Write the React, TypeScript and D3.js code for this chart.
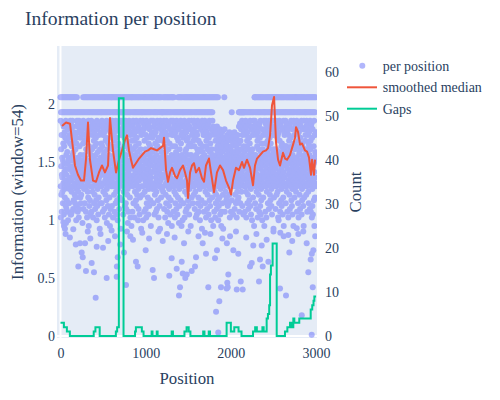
import { useEffect, useRef } from "react";
import * as d3 from "d3";

const WIDTH = 500;
const HEIGHT = 400;
const PLOT = { left: 57, right: 317, top: 46, bottom: 338 };
const FONT = "'Times New Roman', 'Liberation Serif', serif";
const INK = "#2a3f5f";

const X_TICKS = [0, 1000, 2000, 3000];
const INFO_TICKS = [0, 0.5, 1, 1.5, 2];
const COUNT_TICKS = [0, 10, 20, 30, 40, 50, 60];

// per position information: each row covers 120 positions, one char per sample.
// letters = level 0.9 .. 1.855, S / T = the two top bands, others: no point
const LEVELS = "abcdefghijklmnopqrstuvwxyzABCDEFGHIJKLMN";
const BANDS: Record<string, number> = { S: 1.93, T: 2.058 };
const INFO_ROWS = [
  "TNqfSDxnTIhuSAtoTMkzSFryTLgcSEvpTJmbSHswTNjdSBuiTGlqSCyhTKreSMwATLzkSIptTHsFSNxg",
  "TMsgSKzoTEhvSNqBTLwiSCulTJxASGrnTIktSDymTHpeSFvjTNzqSLshMwAoSJtfrNxiSEquKyHmSBvk",
  "xLnrSKzJqLvdSMtFTNiySIpBTGwkSLsATMxhSDuqTKzfSHroTJvmSNycTEtjSCwlTLqgSBzs",
  "TNuhSKzDTIwoSMqfTLxASGskTJynSEviTMrBSHtlTFzeSNwjTKpuSCygTLsmSItqTMxbSDvrTAzkSJuF",
  "SMqkTNxESLzhTIuoSKwBTCriSJyfTMsnSGvATHtlSNpdTDzqSLwjTFxuSKsgTBymSMrcTEviSJztTNqH",
  "TLsjSNyDTKwfSIqATMznSGuhTJxBSErkTNvoSHtgTCzlSLweTMpqSFysTKuiSArmTNxDSJvbTItzSBsK",
  "SNvlTKxCSMqgTIzoSLwETHujSJsATNykSBriTMtFSGznTLpdSKvhTDxqSNusTEwmSIyfTCrBSJzcTMtG",
  "TMzhSLqDTNwkSIxATKufSGsoTJyBSEvlTNrjSHtnTCzqSMweTLpiSFysTKxgSAumTNvDSJzbTIqtSBwK",
  "SJxnTNqeSMzATKuhSGwoTLsBSDyiTIrfSNvkTCtqSHzmTMwgSLpFTBxjSKusTEylSAtcTNrDSIvzTJqH",
  "TCpzSNrkTLxASIvgTMwnSFqDTJthSKyoTBsiSNzETGulSMxfTHrqTLvjSDwbTNysSAzmTKtCSIpuSJxG",
  "SMqoTKyBSNtiTLwESHzfTJunSCrkTNxASGvhTIsqSLzdTDwmSMpjTFyuSKtgTAxlSNrsTBvcSJzITEqw",
  "TNvhSKxATLqoSIzfMwEkSJsnCtyiSNrBHuzgSLvmTGwqSKxdTMpjSDysTAtlSNzFTIrcSBvuTJqeSLwH",
  "SIxkTMrASNwfTLzoSCuhTKsDSJyiTGvnSMqBTHtlSEzjTNwgSLpqTFxsSKucTByESNrmTIvzSAtkTJqG",
  "TKznSNqETMxiSHwoTLvfSBsATJugSIrDTNykSCtmTGzhSLwqTMpeSFxjTDusSKylTAvbSNrCTEztSJqI",
  "TMwhSLzBTNqkSIxoTKufSGsETJyiSDrnTLvASMtgTHzqSNwlTCpjSFxsTIueSKyDTAvmSNrzTBtcLqJw",
  "TKwhxAqoTIzfuGskTJynrDviTLtBwEzlTCxeqHujFsyAmvKrBzgItpxDwGcuhqEyJsCkzvAnrbHxuFtw",
  "qxTzKuhAwsGvoyDrFtlEzBmwIxukEjvrHsCzkqyAtnJwxfvBuDrsGzhIwqEySltxAvCuzrHgsxFwyBtq",
  "vJzirCwnuGsAxkEqzHtfyBwosIvlDuxCrmzFSLyhSAtqSMwkSGzuSKxoSDvrSNsjSIyBSLwgSEztSJqC",
  "SMxhKzAqSNqoIwfuSLuEGskrSJynDriwSMvBHtlzSFzqNwjxSCpgKxsvSAueLyDtSIvmNrzxSBtcJqwT",
  "TNvkSLxBTMqiSIzoTKwESGufTJsASDynTLrhSMtqTHzjSNwgTCplSFxsTAueSKyDTIvmSBrzTNtcSJqF",
  "SKzhTMxASNqfTIwoSLuCTGskSJyETDriSNvBTHtnSMzlTFwqSKpjTLxgSAusTNyDSIvbTCrmSBtzTJqI",
  "TLwiSNxDTKqnSMzATHuoSIsfTByeSJrkTNvGSCthTMzqSLwlTEpjSFxsTKugSAymTNvcSDrzTItBSJqE",
  "SNykTLxESMqoTJzhSKwATCufSIsBTGynSLriTMvDSHtqTNzlSEwjTKpgSBxsTAucSNyFTIvmSDrzTLqt",
  "TMzoSKxATNqhSLwETIukSGsfTJyBSCrnTMviSHtDTLzqSNwgTFplSExsTKujSAycTNvmSBrzTDtGSIqK",
  "SLwnTNxCSKqhTMzASIuoTFskSJyETBriSNvDTGthSLzqTMwfSHpjTKxgSAusTEylSNvcTIrmSCtzTJqB",
];

// sparse points below the main cloud [position, information]
const LOW_POINTS: [number, number][] = [
  [33, 0.98], [60, 0.88], [110, 0.85], [150, 0.92], [180, 0.79], [209, 0.6], [229, 0.8],
  [249, 0.72], [261, 0.68], [288, 0.8], [299, 0.56], [320, 0.9], [350, 0.84], [366, 0.63],
  [393, 0.55], [413, 0.33], [425, 0.77], [470, 0.88], [499, 0.76], [542, 0.5], [560, 0.82],
  [600, 0.91], [640, 0.86], [660, 0.51], [662, 0.6], [672, 0.68], [700, 0.79], [745, 0.72],
  [769, 0.44], [780, 0.9], [820, 0.86], [851, 0.83], [886, 0.64], [906, 0.6], [960, 0.89],
  [1000, 0.74], [1040, 0.84], [1082, 0.57], [1098, 0.5], [1150, 0.9], [1200, 0.82],
  [1250, 0.88], [1277, 0.52], [1305, 0.67], [1340, 0.85], [1364, 0.58], [1391, 0.35],
  [1403, 0.42], [1423, 0.64], [1435, 0.54], [1450, 0.8], [1465, 0.5], [1482, 0.53],
  [1500, 0.9], [1540, 0.56], [1579, 0.6], [1591, 0.68], [1620, 0.86], [1669, 0.8],
  [1696, 0.89], [1708, 0.71], [1735, 0.42], [1760, 0.88], [1814, 0.67], [1826, 0.21],
  [1837, 0.74], [1852, 0.03], [1864, 0.3], [1884, 0.42], [1900, 0.84], [1951, 0.41],
  [1953, 0.8], [1958, 0.46], [1963, 0.42], [1970, 0.53], [1990, 0.86], [2029, 0.74],
  [2060, 0.9], [2069, 0.4], [2087, 0.71], [2116, 0.47], [2139, 0.4], [2180, 0.85],
  [2225, 0.6], [2245, 0.63], [2263, 0.78], [2300, 0.88], [2330, 0.47], [2342, 0.66],
  [2362, 0.78], [2374, 0.6], [2420, 0.83], [2440, 0.64], [2500, 0.9], [2577, 0.41],
  [2580, 0.89], [2620, 0.86], [2647, 0.35], [2674, 0.87], [2686, 0.72], [2720, 0.82],
  [2773, 0.93], [2792, 0.88], [2832, 0.18], [2850, 0.9], [2890, 0.8], [2909, 0.55],
  [2937, 0.66], [2949, 0.01], [2950, 0.71], [2961, 0.42], [2968, 0.74], [2990, 0.86],
];

const MEDIAN_POS = [
  18, 65, 112, 135, 170, 205, 240, 276, 299, 323, 346, 382, 417, 452, 487, 522, 558, 581,
  616, 652, 687, 722, 757, 781, 804, 828, 851, 886, 922, 957, 992, 1027, 1063, 1098, 1133,
  1168, 1204, 1215, 1239, 1262, 1286, 1309, 1344, 1368, 1403, 1438, 1462, 1485, 1497, 1521,
  1544, 1567, 1591, 1626, 1661, 1685, 1708, 1743, 1767, 1802, 1837, 1873, 1908, 1943, 1978,
  2002, 2025, 2060, 2095, 2131, 2154, 2189, 2225, 2260, 2283, 2307, 2342, 2377, 2413, 2436,
  2460, 2483, 2507, 2530, 2554, 2577, 2612, 2636, 2659, 2694, 2730, 2753, 2765, 2788, 2812,
  2835, 2870, 2894, 2917, 2941, 2953, 2976, 2988,
];
const MEDIAN_VAL = [
  1.81, 1.84, 1.83, 1.69, 1.47, 1.39, 1.34, 1.34, 1.52, 1.84, 1.52, 1.34, 1.33, 1.41, 1.47,
  1.41, 1.47, 1.88, 1.6, 1.41, 1.52, 1.6, 1.69, 1.73, 1.6, 1.52, 1.45, 1.49, 1.53, 1.56,
  1.59, 1.6, 1.62, 1.61, 1.6, 1.62, 1.64, 1.71, 1.43, 1.33, 1.41, 1.45, 1.38, 1.36, 1.43,
  1.47, 1.41, 1.34, 1.19, 1.41, 1.47, 1.49, 1.41, 1.45, 1.36, 1.33, 1.47, 1.53, 1.41, 1.24,
  1.41, 1.47, 1.43, 1.34, 1.28, 1.22, 1.34, 1.45, 1.43, 1.5, 1.45, 1.52, 1.45, 1.3, 1.47,
  1.53, 1.56, 1.59, 1.6, 1.62, 1.73, 1.99, 2.06, 1.67, 1.52, 1.47, 1.58, 1.53, 1.52, 1.56,
  1.65, 1.71, 1.8, 1.76, 1.65, 1.66, 1.6, 1.59, 1.54, 1.39, 1.52, 1.39, 1.52,
];

// gap count, value holds from each position to the next
const GAP_POS = [
  0, 40, 75, 110, 390, 410, 460, 650, 665, 685, 740, 875, 885, 955, 975, 1070, 1080, 1130,
  1140, 1305, 1320, 1455, 1480, 1505, 1525, 1675, 1690, 1740, 1755, 1950, 2000, 2040, 2090,
  2125, 2260, 2285, 2305, 2370, 2385, 2420, 2435, 2450, 2460, 2470, 2490, 2538, 2635, 2663,
  2694, 2714, 2733, 2745, 2803, 2937, 2955, 2970, 2980, 3000,
];
const GAP_VAL = [
  3, 2, 1, 0, 1, 2, 0, 1, 2, 54, 0, 1, 2, 1, 0, 1, 0, 1, 0, 1, 0, 1, 2, 1, 0, 1, 0, 1, 0, 3,
  1, 2, 1, 0, 1, 2, 1, 2, 1, 4, 5, 7, 14, 16, 21, 0, 1, 2, 3, 2, 4, 3, 4, 6, 7, 8, 9, 9,
];

function decodeInfo(): [number, number][] {
  const out: [number, number][] = [];
  INFO_ROWS.forEach((row, r) => {
    for (let j = 0; j < row.length; j++) {
      const ch = row[j];
      const pos = r * 120 + (j * 120) / row.length;
      if (ch in BANDS) out.push([pos, BANDS[ch]]);
      else {
        const k = LEVELS.indexOf(ch);
        if (k >= 0) out.push([pos, 0.9 + k * 0.0245]);
      }
    }
  });
  return out.concat(LOW_POINTS);
}

export default function App() {
  const ref = useRef<SVGSVGElement | null>(null);

  useEffect(() => {
    if (!ref.current) return;
    document.body.style.margin = "0";
    const svg = d3.select(ref.current);
    svg.selectAll("*").remove();

    const x = d3.scaleLinear([-41, 3011], [PLOT.left, PLOT.right]);
    const yInfo = d3.scaleLinear([-0.017, 2.5], [PLOT.bottom, PLOT.top]);
    const yCount = d3.scaleLinear([-0.45, 65.9], [PLOT.bottom, PLOT.top]);

    svg.append("rect").attr("width", WIDTH).attr("height", HEIGHT).attr("fill", "#fff");
    svg
      .append("defs")
      .append("clipPath")
      .attr("id", "plotclip")
      .append("rect")
      .attr("x", PLOT.left)
      .attr("y", PLOT.top)
      .attr("width", PLOT.right - PLOT.left)
      .attr("height", PLOT.bottom - PLOT.top);

    svg
      .append("rect")
      .attr("x", PLOT.left)
      .attr("y", PLOT.top)
      .attr("width", PLOT.right - PLOT.left)
      .attr("height", PLOT.bottom - PLOT.top)
      .attr("fill", "#E5ECF6");

    // zero lines
    svg
      .append("line")
      .attr("x1", x(0))
      .attr("x2", x(0))
      .attr("y1", PLOT.top)
      .attr("y2", PLOT.bottom)
      .attr("stroke", "#fff")
      .attr("stroke-width", 2);
    svg
      .append("line")
      .attr("x1", PLOT.left)
      .attr("x2", PLOT.right)
      .attr("y1", yInfo(0))
      .attr("y2", yInfo(0))
      .attr("stroke", "#fff")
      .attr("stroke-width", 2);

    const plot = svg.append("g").attr("clip-path", "url(#plotclip)");

    plot
      .append("g")
      .attr("opacity", 0.5)
      .selectAll("circle")
      .data(decodeInfo())
      .join("circle")
      .attr("cx", (d) => x(d[0]))
      .attr("cy", (d) => yInfo(d[1]))
      .attr("r", 3)
      .attr("fill", "#636efa");

    const median = MEDIAN_POS.map((p, i) => [p, MEDIAN_VAL[i]] as [number, number]);
    plot
      .append("path")
      .attr(
        "d",
        d3
          .line<[number, number]>()
          .x((d) => x(d[0]))
          .y((d) => yInfo(d[1]))(median)
      )
      .attr("fill", "none")
      .attr("stroke", "#EF553B")
      .attr("stroke-width", 2)
      .attr("stroke-linejoin", "round");

    const gaps = GAP_POS.map((p, i) => [p, GAP_VAL[i]] as [number, number]);
    plot
      .append("path")
      .attr(
        "d",
        d3
          .line<[number, number]>()
          .curve(d3.curveStepAfter)
          .x((d) => x(d[0]))
          .y((d) => yCount(d[1]))(gaps)
      )
      .attr("fill", "none")
      .attr("stroke", "#00CC96")
      .attr("stroke-width", 2);

    const styleAxis = (g: d3.Selection<SVGGElement, unknown, null, undefined>) => {
      g.select(".domain").remove();
      g.selectAll("text").attr("fill", INK).style("font-family", FONT).style("font-size", "14px");
    };

    svg
      .append("g")
      .attr("transform", `translate(0,${PLOT.bottom})`)
      .call(d3.axisBottom(x).tickValues(X_TICKS).tickSize(0).tickPadding(10).tickFormat((d) => String(d)))
      .call(styleAxis);
    svg
      .append("g")
      .attr("transform", `translate(${PLOT.left - 1},0)`)
      .call(d3.axisLeft(yInfo).tickValues(INFO_TICKS).tickSize(0).tickPadding(1).tickFormat((d) => String(d)))
      .call(styleAxis);
    svg
      .append("g")
      .attr("transform", `translate(${PLOT.right},0)`)
      .call(d3.axisRight(yCount).tickValues(COUNT_TICKS).tickSize(0).tickPadding(8).tickFormat((d) => String(d)))
      .call(styleAxis);

    const text = (tx: string, x0: number, y0: number, size: number, rotate = false, anchor = "middle") =>
      svg
        .append("text")
        .attr("transform", `translate(${x0},${y0})${rotate ? " rotate(-90)" : ""}`)
        .attr("text-anchor", anchor)
        .attr("fill", INK)
        .style("font-family", FONT)
        .style("font-size", `${size}px`)
        .text(tx);

    text("Information per position", 25, 25, 19.6, false, "start");
    text("Position", (PLOT.left + PLOT.right) / 2, 384, 16.8);
    text("Information (window=54)", 23, (PLOT.top + PLOT.bottom) / 2, 16.8, true);
    text("Count", 361, (PLOT.top + PLOT.bottom) / 2, 16.8, true);

    // legend
    svg
      .append("circle")
      .attr("cx", 362.3)
      .attr("cy", 65.7)
      .attr("r", 3)
      .attr("fill", "#636efa")
      .attr("opacity", 0.5);
    svg
      .append("line")
      .attr("x1", 347)
      .attr("x2", 377)
      .attr("y1", 87.3)
      .attr("y2", 87.3)
      .attr("stroke", "#EF553B")
      .attr("stroke-width", 2);
    svg
      .append("line")
      .attr("x1", 347)
      .attr("x2", 377)
      .attr("y1", 108.7)
      .attr("y2", 108.7)
      .attr("stroke", "#00CC96")
      .attr("stroke-width", 2);
    text("per position", 382.7, 70.5, 14, false, "start");
    text("smoothed median", 382.7, 92, 14, false, "start");
    text("Gaps", 382.7, 113.5, 14, false, "start");
  }, []);

  return <svg ref={ref} width={WIDTH} height={HEIGHT} style={{ display: "block" }} />;
}
